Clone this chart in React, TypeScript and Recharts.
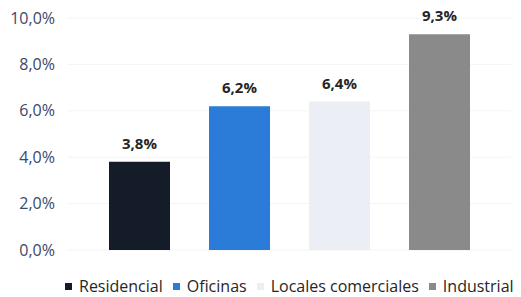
import React from "react";
import { BarChart, Bar, XAxis, YAxis, CartesianGrid, LabelList } from "recharts";

const categories = ["Residencial", "Oficinas", "Locales comerciales", "Industrial"];
const values = [3.8, 6.2, 6.4, 9.3];
const colors = ["#141b29", "#2b7bd8", "#eceef6", "#8a8a8a"];
const yTicks = [0, 2, 4, 6, 8, 10];

const row: Record<string, number | string> = { name: "Tasa" };
categories.forEach((c, i) => {
  row[c] = values[i];
});
const data = [row];

const fmt = (v: number) => v.toFixed(1).replace(".", ",") + "%";

function LegendRow() {
  return (
    <div
      style={{
        position: "absolute",
        left: 65,
        top: 276,
        display: "flex",
        alignItems: "center",
        height: 20,
        lineHeight: "20px",
        fontFamily: "'Open Sans', sans-serif",
        fontSize: 16,
        color: "#262626",
        whiteSpace: "nowrap",
      }}
    >
      {categories.map((c, i) => (
        <div key={c} style={{ display: "flex", alignItems: "center", marginLeft: i === 0 ? 0 : 10 }}>
          <span style={{ display: "inline-block", width: 7, height: 7, background: colors[i], marginRight: 7 }} />
          <span>{c}</span>
        </div>
      ))}
    </div>
  );
}

export default function App() {
  return (
    <div style={{ position: "absolute", left: 0, top: 0, width: 521, height: 297, background: "#fff" }}>
      <BarChart width={521} height={297} data={data} margin={{ top: 18, right: 10, bottom: 47, left: 0 }} barSize={61} barGap={39}>
        <CartesianGrid horizontal vertical={false} stroke="#f4f4f4" />
        <XAxis dataKey="name" hide />
        <YAxis
          width={68}
          domain={[0, 10]}
          ticks={yTicks}
          tickFormatter={fmt}
          axisLine={false}
          tickLine={false}
          tickSize={0}
          tickMargin={13}
          tick={{ fill: "#3a4868", fontSize: 16, fontFamily: "'Open Sans', sans-serif" }}
        />
        {categories.map((c, i) => (
          <Bar key={c} dataKey={c} name={c} fill={colors[i]} isAnimationActive={false}>
            <LabelList dataKey={c} position="top" offset={13} formatter={(v: any) => fmt(Number(v))} style={{ fill: "#262626", fontWeight: 700, fontSize: 15, fontFamily: "'Open Sans', sans-serif" }} />
          </Bar>
        ))}
      </BarChart>
      <LegendRow />
    </div>
  );
}
